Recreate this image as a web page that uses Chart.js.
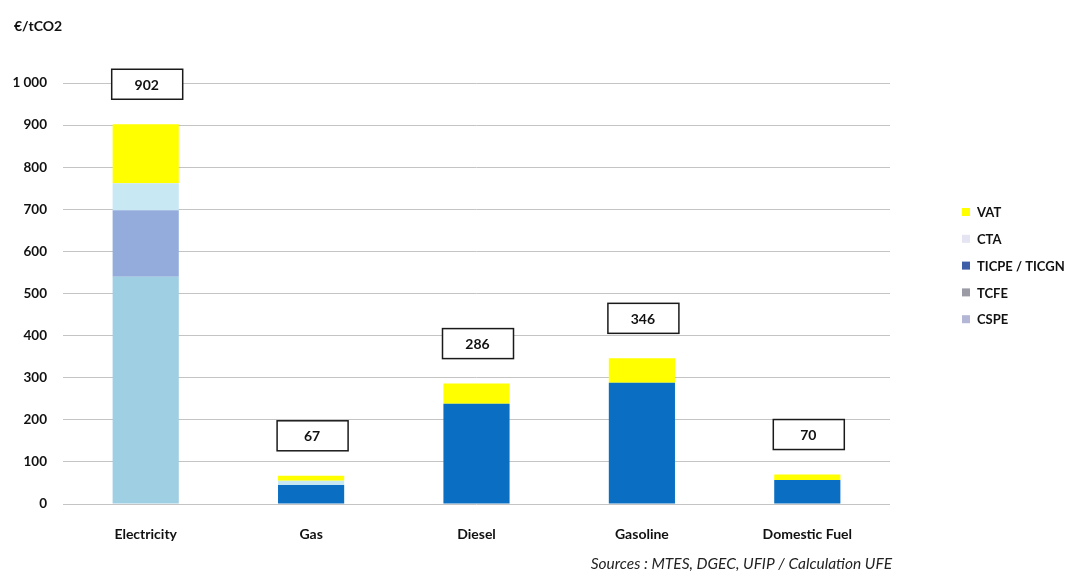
<!DOCTYPE html>
<html>
<head>
<meta charset="utf-8">
<script src="https://cdn.jsdelivr.net/npm/chart.js@4"></script>
<style>
    html, body { margin: 0; padding: 0; background: #fff; }
    #wrap { width: 1073px; height: 572px; position: relative; }
</style>
</head>
<body>
<div id="wrap"><canvas id="taxChart"></canvas></div>
<script>
// categories and series (€/tCO2)
const categories = ["Electricity", "Gas", "Diesel", "Gasoline", "Domestic Fuel"];
const cspe = [540, 0, 0, 0, 0];
const tcfe = [158, 0, 0, 0, 0];
const ticpe = [0, 45, 238, 288, 57];
const cta = [64, 10, 0, 0, 0];
const vat = [140, 12, 48, 58, 13];
const totals = [902, 67, 286, 346, 70];
const yTicks = [0, 100, 200, 300, 400, 500, 600, 700, 800, 900, 1000];

const FONT = "Lato, 'Open Sans', sans-serif";

// legend swatches differ a little from the bar fills in the original
const legendItems = [
    { text: "VAT", color: "#ffff00" },
    { text: "CTA", color: "#e4e4f2" },
    { text: "TICPE / TICGN", color: "#3e5fa8" },
    { text: "TCFE", color: "#9b9ba6" },
    { text: "CSPE", color: "#b4b6d6" },
];

const extras = {
    id: "extras",
    afterDatasetsDraw(chart) {
        const ctx = chart.ctx;
        const x = chart.scales.x;
        const y = chart.scales.y;
        ctx.save();

        // total boxes above each bar
        ctx.font = "bold 14px " + FONT;
        ctx.textAlign = "center";
        ctx.textBaseline = "middle";
        totals.forEach((t, i) => {
            const cx = x.getPixelForValue(i) + 1;
            const cy = y.getPixelForValue(t) - 40;
            ctx.fillStyle = "#fff";
            ctx.fillRect(cx - 35, cy - 15, 71, 30);
            ctx.strokeStyle = "#1a1a1a";
            ctx.lineWidth = 1.5;
            ctx.strokeRect(cx - 35, cy - 15, 71, 30);
            ctx.fillStyle = "#111";
            ctx.fillText(String(t), cx, cy + 1);
        });

        // unit
        ctx.textAlign = "left";
        ctx.fillText("€/tCO2", 14, 26);

        // legend
        ctx.font = "bold 13px " + FONT;
        legendItems.forEach((it, i) => {
            const ly = 212 + i * 26.8;
            ctx.fillStyle = it.color;
            ctx.fillRect(962, ly - 4, 8, 8);
            ctx.fillStyle = "#111";
            ctx.fillText(it.text, 977, ly + 1);
        });

        // source
        ctx.font = "italic 15.5px " + FONT;
        ctx.textAlign = "right";
        ctx.fillStyle = "#222";
        ctx.fillText("Sources : MTES, DGEC, UFIP / Calculation UFE", 892, 564);
        ctx.restore();
    },
};

function ds(label, data, color) {
    return { label: label, data: data, backgroundColor: color, borderWidth: 0 };
}

new Chart(document.getElementById("taxChart"), {
    type: "bar",
    data: {
        labels: categories,
        datasets: [
            ds("CSPE", cspe, "#9ecfe2"),
            ds("TCFE", tcfe, "#93acdc"),
            ds("TICPE / TICGN", ticpe, "#0a6fc2"),
            ds("CTA", cta, "#c8e8f4"),
            ds("VAT", vat, "#ffff00"),
        ],
    },
    options: {
        responsive: true,
        maintainAspectRatio: false,
        animation: false,
        layout: { padding: { top: 83, right: 183, bottom: 0, left: 0 } },
        datasets: { bar: { barPercentage: 0.4, categoryPercentage: 1 } },
        plugins: {
            legend: { display: false },
            tooltip: { enabled: false },
        },
        scales: {
            x: {
                stacked: true,
                grid: { display: false },
                border: { display: false },
                ticks: { color: "#111", font: { family: FONT, size: 14, weight: "bold" }, padding: 14 },
                afterFit: (s) => { s.height = 68; },
            },
            y: {
                stacked: true,
                min: 0,
                max: 1000,
                afterBuildTicks: (s) => { s.ticks = yTicks.map((v) => ({ value: v })); },
                grid: { color: "#c4c4c4", lineWidth: 1, drawTicks: false },
                border: { display: false },
                ticks: {
                    color: "#111",
                    padding: 16,
                    font: { family: FONT, size: 13.5, weight: "bold" },
                    callback: (v) => String(v).replace(/\B(?=(\d{3})+(?!\d))/g, " "),
                },
                afterFit: (s) => { s.width = 63; },
            },
        },
    },
    plugins: [extras],
});
</script>
</body>
</html>
